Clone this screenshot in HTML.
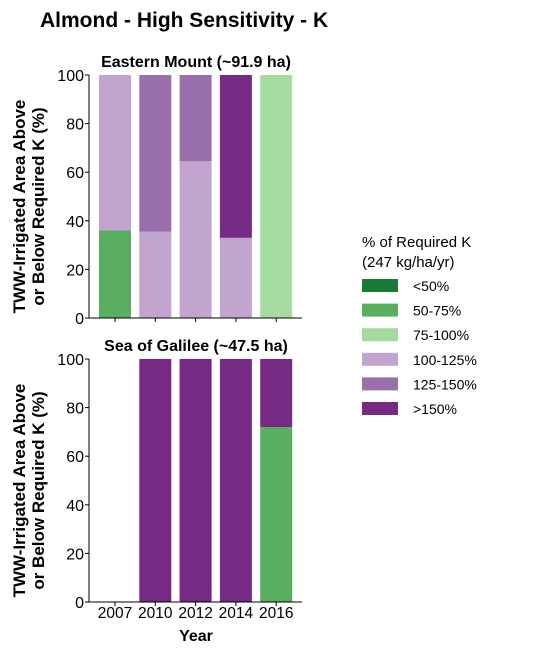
<!DOCTYPE html>
<html><head><meta charset="utf-8"><style>
body{margin:0;background:#fff;}
svg text{font-family:"Liberation Sans",sans-serif;}
</style></head><body>
<svg id="c" width="540" height="657" xmlns="http://www.w3.org/2000/svg">
<text x="40" y="27" font-size="21" font-weight="bold">Almond - High Sensitivity - K</text>
<g id="plots"></g>
<g id="legend"></g>
</svg>
<script>
const years = ["2007","2010","2012","2014","2016"];
const categories = ["<50%","50-75%","75-100%","100-125%","125-150%",">150%"];
const colors = ["#1b7837","#5aae61","#a6dba0","#c2a5cf","#9970ab","#762a83"];
const yTicks = [0,20,40,60,80,100];
// values per category (rows) per year (cols)
const eastern = [
  [0,0,0,0,0],
  [36,0,0,0,0],
  [0,0,0,0,100],
  [64,35.5,64.5,33,0],
  [0,64.5,35.5,0,0],
  [0,0,0,67,0]
];
const galilee = [
  [0,0,0,0,0],
  [0,0,0,0,72],
  [0,0,0,0,0],
  [0,0,0,0,0],
  [0,0,0,0,0],
  [0,100,100,100,28]
];
const NS="http://www.w3.org/2000/svg";
function mk(tag,attrs,parent,text){const e=document.createElementNS(NS,tag);for(const k in attrs)e.setAttribute(k,attrs[k]);if(text!==undefined)e.textContent=text;parent.appendChild(e);return e;}
const x0=89,x1=302,bw=32;
function xc(i){return 115+i*40.3;}
function panel(data,title,top,showX,name){
  const g=mk('g',{},document.getElementById('plots'));
  
  
  const bot=top+243;
  const y=v=>bot-v/100*243;
  const t=mk('text',{x:196,y:top-8,'font-size':16,'font-weight':'bold','text-anchor':'middle'},g,title);
  
  
  years.forEach((yr,i)=>{
    let acc=0;
    categories.forEach((c,k)=>{
      const v=data[k][i];
      if(v>0){
        const r=mk('rect',{x:xc(i)-bw/2,y:y(acc+v),width:bw,height:y(acc)-y(acc+v),fill:colors[k]},g);
        
        
      }
      acc+=v;
    });
    mk('line',{x1:xc(i),x2:xc(i),y1:bot,y2:bot+4,stroke:'#000'},g);
    if(showX){
      const tl=mk('text',{x:xc(i),y:bot+16,'font-size':15.5,'text-anchor':'middle'},g,yr);
      
      
    }
  });
  yTicks.forEach(v=>{
    mk('line',{x1:x0-4,x2:x0,y1:y(v),y2:y(v),stroke:'#000'},g);
    const tl=mk('text',{x:x0-5,y:y(v)+6,'font-size':16,'text-anchor':'end'},g,v);
    
    
  });
  mk('line',{x1:x0,x2:x0,y1:top,y2:bot,stroke:'#000'},g);
  mk('line',{x1:x0,x2:x1,y1:bot,y2:bot,stroke:'#000'},g);
  const cy=(top+bot)/2+10;
  const yl=mk('text',{transform:`translate(25,${cy}) rotate(-90)`,'font-size':17,'font-weight':'bold','text-anchor':'middle'},g);
  
  
  mk('tspan',{x:0,y:0},yl,'TWW-Irrigated Area Above');
  mk('tspan',{x:0,y:19},yl,'or Below Required K (%)');
}
panel(eastern,'Eastern Mount (~91.9 ha)',75,false,'eastern-mount-panel');
panel(galilee,'Sea of Galilee (~47.5 ha)',359,true,'sea-of-galilee-panel');
const xt=mk('text',{x:196,y:641,'font-size':16,'font-weight':'bold','text-anchor':'middle'},document.getElementById('plots'),'Year');


const lg=document.getElementById('legend');


mk('text',{x:362,y:247,'font-size':15},lg,'% of Required K');
mk('text',{x:362,y:267,'font-size':15},lg,'(247 kg/ha/yr)');
categories.forEach((c,k)=>{
  const yy=279+k*24.6;
  const e=mk('g',{},lg);
  
  
  mk('rect',{x:362,y:yy,width:36,height:13,fill:colors[k]},e);
  mk('text',{x:413,y:yy+12,'font-size':14},e,c);
});
</script>
</body></html>
